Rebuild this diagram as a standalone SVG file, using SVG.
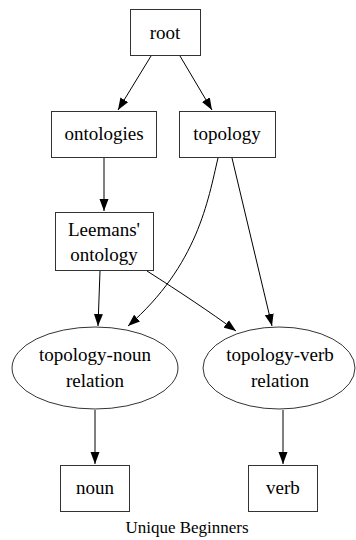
<svg xmlns="http://www.w3.org/2000/svg" width="356" height="540" viewBox="0 0 356 540">
  <defs>
    <marker id="arrow" viewBox="0 0 12 10" refX="12" refY="5" markerWidth="12" markerHeight="10" markerUnits="userSpaceOnUse" orient="auto">
      <path d="M0,0.5 L12,5 L0,9.5 Z" fill="#000"/>
    </marker>
  </defs>
  <rect width="356" height="540" fill="#fff"/>

  <!-- connectors -->
  <g id="edges" fill="none" stroke="#000" stroke-width="1" marker-end="url(#arrow)">
    <path d="M151,56 L118,110"/>
    <path d="M180,56 L212,110"/>
    <path d="M104,157 L104,211"/>
    <path d="M218,158 C208,200 198,265 128,326"/>
    <path d="M232,158 L272,326"/>
    <path d="M100,271 L98,326"/>
    <path d="M147,271 C180,292 210,312 236,331"/>
    <path d="M95,410 L95,464"/>
    <path d="M283,410 L283,464"/>
  </g>

  <!-- nodes: white fill, dark grey outline, serif labels -->
  <g id="nodes" fill="#fff" stroke="#333" stroke-width="1">
    <g id="root">
      <rect x="130.5" y="9.5" width="70" height="46"/>
      <text x="165" y="39" font-family="Liberation Serif" font-size="19" text-anchor="middle" fill="#000" stroke="none">root</text>
    </g>
    <g id="ontologies">
      <rect x="51.5" y="111.5" width="105" height="46"/>
      <text x="104" y="140" font-family="Liberation Serif" font-size="19" text-anchor="middle" fill="#000" stroke="none">ontologies</text>
    </g>
    <g id="topology">
      <rect x="179.5" y="111.5" width="96" height="46"/>
      <text x="227" y="140" font-family="Liberation Serif" font-size="19" text-anchor="middle" fill="#000" stroke="none">topology</text>
    </g>
    <g id="leemans">
      <rect x="55.5" y="212.5" width="98" height="58"/>
      <text x="104" y="236" font-family="Liberation Serif" font-size="19" text-anchor="middle" fill="#000" stroke="none">Leemans'</text>
      <text x="104" y="261" font-family="Liberation Serif" font-size="19" text-anchor="middle" fill="#000" stroke="none">ontology</text>
    </g>
    <g id="topology-noun">
      <ellipse cx="95" cy="368" rx="83" ry="41"/>
      <text x="95" y="361" font-family="Liberation Serif" font-size="19" text-anchor="middle" fill="#000" stroke="none">topology-noun</text>
      <text x="95" y="387" font-family="Liberation Serif" font-size="19" text-anchor="middle" fill="#000" stroke="none">relation</text>
    </g>
    <g id="topology-verb">
      <ellipse cx="279" cy="368" rx="76" ry="41"/>
      <text x="280" y="361" font-family="Liberation Serif" font-size="19" text-anchor="middle" fill="#000" stroke="none">topology-verb</text>
      <text x="280" y="387" font-family="Liberation Serif" font-size="19" text-anchor="middle" fill="#000" stroke="none">relation</text>
    </g>
    <g id="noun">
      <rect x="60.5" y="465.5" width="69" height="46"/>
      <text x="95" y="494" font-family="Liberation Serif" font-size="19" text-anchor="middle" fill="#000" stroke="none">noun</text>
    </g>
    <g id="verb">
      <rect x="248.5" y="465.5" width="69" height="46"/>
      <text x="283" y="494" font-family="Liberation Serif" font-size="19" text-anchor="middle" fill="#000" stroke="none">verb</text>
    </g>
  </g>

  <text x="187" y="533" font-family="Liberation Serif" font-size="17" text-anchor="middle" fill="#000">Unique Beginners</text>
</svg>
